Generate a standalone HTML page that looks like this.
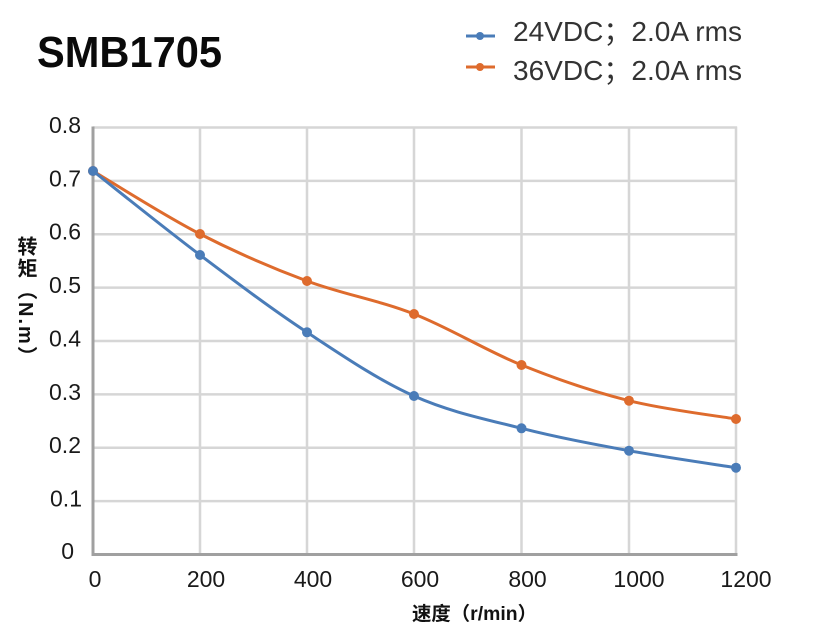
<!DOCTYPE html>
<html><head><meta charset="utf-8">
<style>
html,body{margin:0;padding:0;background:#fff;}
body{width:831px;height:640px;position:relative;overflow:hidden;}
svg{position:absolute;left:0;top:0;}
.yt{position:absolute;left:15px;top:236px;writing-mode:vertical-rl;text-orientation:mixed;font-family:"Liberation Sans","Noto Sans CJK SC",sans-serif;font-weight:bold;font-size:20px;color:#111;line-height:20px;letter-spacing:2px;}
</style></head>
<body>
<svg width="831" height="640" viewBox="0 0 831 640" xmlns="http://www.w3.org/2000/svg">
  <g font-family="Liberation Sans, Noto Sans CJK SC, sans-serif">
  <!-- title -->
  <text x="37" y="67" font-size="44" font-weight="bold" fill="#0a0a0a" textLength="185" lengthAdjust="spacingAndGlyphs">SMB1705</text>

  <!-- legend -->
  <line x1="466" y1="36" x2="495" y2="36" stroke="#4a7cb8" stroke-width="3"/>
  <circle cx="480" cy="36" r="4" fill="#4a7cb8"/>
  <text x="513" y="41" font-size="28" fill="#333" textLength="229" lengthAdjust="spacingAndGlyphs">24VDC；2.0A rms</text>
  <line x1="466" y1="67" x2="495" y2="67" stroke="#de6b2d" stroke-width="3"/>
  <circle cx="480" cy="67" r="4" fill="#de6b2d"/>
  <text x="513" y="80" font-size="28" fill="#333" textLength="229" lengthAdjust="spacingAndGlyphs">36VDC；2.0A rms</text>

  <!-- grid -->
  <g stroke="#d6d6d6" stroke-width="2.5">
    <line x1="93" y1="127.5" x2="737" y2="127.5"/>
    <line x1="93" y1="180.9" x2="737" y2="180.9"/>
    <line x1="93" y1="234.25" x2="737" y2="234.25"/>
    <line x1="93" y1="287.6" x2="737" y2="287.6"/>
    <line x1="93" y1="341" x2="737" y2="341"/>
    <line x1="93" y1="394.4" x2="737" y2="394.4"/>
    <line x1="93" y1="447.75" x2="737" y2="447.75"/>
    <line x1="93" y1="501.1" x2="737" y2="501.1"/>
    <line x1="200" y1="126.5" x2="200" y2="554"/>
    <line x1="307" y1="126.5" x2="307" y2="554"/>
    <line x1="414" y1="126.5" x2="414" y2="554"/>
    <line x1="521.5" y1="126.5" x2="521.5" y2="554"/>
    <line x1="629" y1="126.5" x2="629" y2="554"/>
    <line x1="736" y1="126.5" x2="736" y2="554"/>
  </g>
  <!-- axes -->
  <g stroke="#a0a0a0" stroke-width="3">
    <line x1="93" y1="126.5" x2="93" y2="556"/>
    <line x1="91.5" y1="554.5" x2="737.5" y2="554.5"/>
  </g>

  <!-- y tick labels -->
  <g font-size="23" fill="#1a1a1a" text-anchor="end">
    <text x="81" y="133">0.8</text>
    <text x="81" y="186.4">0.7</text>
    <text x="81" y="239.7">0.6</text>
    <text x="81" y="293.1">0.5</text>
    <text x="81" y="346.5">0.4</text>
    <text x="81" y="399.9">0.3</text>
    <text x="81" y="453.2">0.2</text>
    <text x="82" y="506.6">0.1</text>
    <text x="74" y="559">0</text>
  </g>
  <!-- x tick labels -->
  <g font-size="23" fill="#1a1a1a" text-anchor="middle">
    <text x="95" y="587">0</text>
    <text x="206" y="587">200</text>
    <text x="313" y="587">400</text>
    <text x="420" y="587">600</text>
    <text x="527.5" y="587">800</text>
    <text x="639" y="587">1000</text>
    <text x="746" y="587">1200</text>
  </g>
  <!-- x axis title -->
  <text x="412" y="620" font-size="19" font-weight="bold" fill="#111" textLength="125" lengthAdjust="spacingAndGlyphs">速度（r/min）</text>

  <!-- orange series -->
  <path d="M93,171 C110.8,181.5 164.3,215.7 200,234 C235.7,252.3 271.3,267.7 307,281 C342.7,294.3 378.25,300 414,314 C449.75,328 485.67,350.55 521.5,365 C557.3,379.45 593.25,391.7 629,400.7 C664.75,409.7 718.2,416 736,419" fill="none" stroke="#de6b2d" stroke-width="3" stroke-linejoin="round"/>
  <g fill="#de6b2d">
    <circle cx="93" cy="171" r="5"/>
    <circle cx="200" cy="234" r="5"/>
    <circle cx="307" cy="281" r="5"/>
    <circle cx="414" cy="314" r="5"/>
    <circle cx="521.5" cy="365" r="5"/>
    <circle cx="629" cy="400.7" r="5"/>
    <circle cx="736" cy="419" r="5"/>
  </g>
  <!-- blue series -->
  <path d="M93,171 C110.8,185 164.3,228.1 200,255 C235.7,281.9 271.3,308.8 307,332.3 C342.7,355.8 378.25,380 414,396 C449.75,412 485.67,419.2 521.5,428.3 C557.3,437.4 593.25,444.1 629,450.7 C664.75,457.3 718.2,464.9 736,467.7" fill="none" stroke="#4a7cb8" stroke-width="3" stroke-linejoin="round"/>
  <g fill="#4a7cb8">
    <circle cx="93" cy="171" r="5"/>
    <circle cx="200" cy="255" r="5"/>
    <circle cx="307" cy="332.3" r="5"/>
    <circle cx="414" cy="396" r="5"/>
    <circle cx="521.5" cy="428.3" r="5"/>
    <circle cx="629" cy="450.7" r="5"/>
    <circle cx="736" cy="467.7" r="5"/>
  </g>
  </g>
</svg>
<div class="yt">转矩（N.m）</div>
</body></html>
